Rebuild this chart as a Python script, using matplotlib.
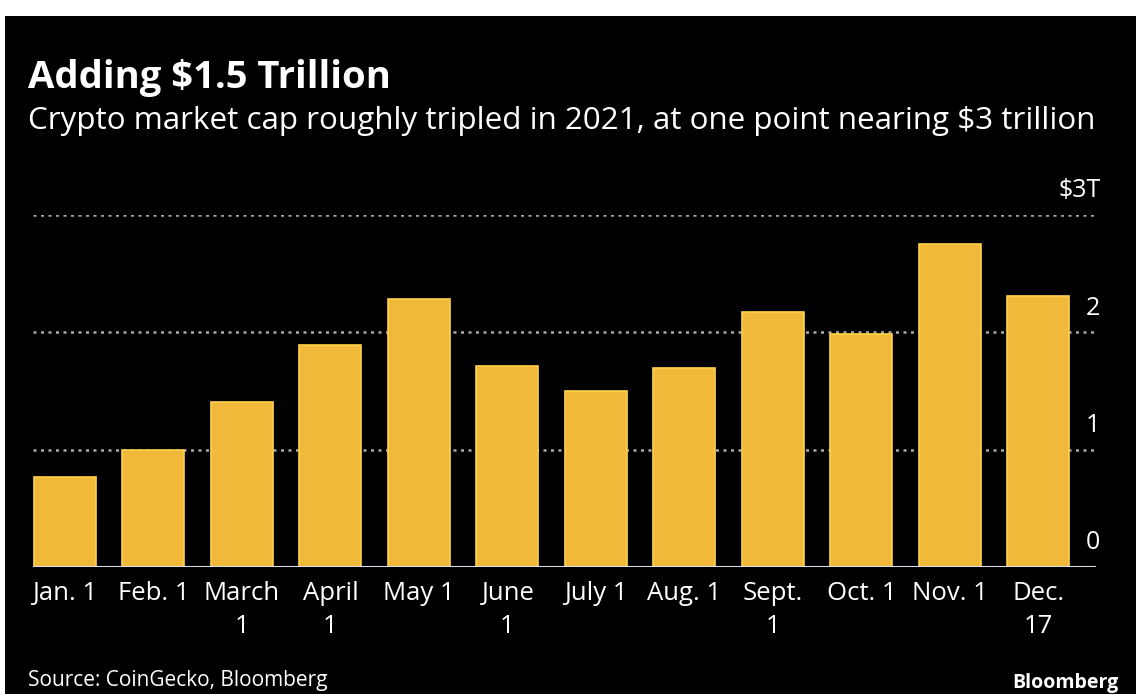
import matplotlib.pyplot as plt
from matplotlib.patches import Rectangle
import matplotlib.transforms as mtransforms

# data (trillions of dollars)
months = ["Jan. 1", "Feb. 1", "March\n1", "April\n1", "May 1", "June\n1",
          "July 1", "Aug. 1", "Sept.\n1", "Oct. 1", "Nov. 1", "Dec.\n17"]
market_cap = [0.77, 1.00, 1.41, 1.89, 2.28, 1.71, 1.50, 1.70, 2.17, 1.99, 2.75, 2.31]
y_ticks = [0, 1, 2, 3]
y_tick_labels = ["0", "1", "2", "$3T"]

BAR = "#F1B93A"
FONT = "Open Sans"

fig = plt.figure(figsize=(11.36, 6.94), dpi=100)
fig.patch.set_facecolor("white")
# black panel, thin white border top and left
fig.patches.append(Rectangle((5 / 1136, 0), 1, 1 - 16 / 694, transform=fig.transFigure,
                             facecolor="black", edgecolor="none", zorder=-5))

ax = fig.add_axes([33 / 1136, 1 - 567 / 694, (1096 - 33) / 1136, (567 - 215) / 694])
ax.set_facecolor("black")

x = list(range(len(months)))
ax.bar(x, market_cap, width=0.70, color=BAR, edgecolor="#FFD24A", linewidth=1.2, zorder=2)

ax.set_xlim(-0.36, 11.65)
ax.set_ylim(0, 3)

for t in y_ticks[1:]:
    ax.axhline(t, color="#A8A8A8", linestyle=(0, (1.2, 1.8)), linewidth=1.8, zorder=1)
ax.axhline(0, color="#D8DDEA", linewidth=2.2, zorder=3)

trans = mtransforms.blended_transform_factory(ax.transAxes, ax.transData)
for t, lab in zip(y_ticks, y_tick_labels):
    ax.text(1.004, t + 0.1, lab, transform=trans, ha="right", va="bottom",
            color="white", fontsize=18, family=FONT)

ax.set_xticks(x)
ax.set_xticklabels(months, color="white", fontsize=18.5, family=FONT, linespacing=1.45)
ax.tick_params(axis="x", length=0, pad=10)
ax.set_yticks([])
for s in ax.spines.values():
    s.set_visible(False)

fig.text(28 / 1136, 1 - 88 / 694, "Adding $1.5 Trillion", color="white",
         fontsize=27.5, fontweight="bold", family=FONT, va="baseline")
fig.text(28 / 1136, 1 - 129 / 694,
         "Crypto market cap roughly tripled in 2021, at one point nearing $3 trillion",
         color="white", fontsize=22.6, family=FONT, va="baseline")
fig.text(28 / 1136, 1 - 686 / 694, "Source: CoinGecko, Bloomberg", color="white",
         fontsize=15, family=FONT, va="baseline")
fig.text(1118 / 1136, 1 - 688 / 694, "Bloomberg", color="white",
         fontsize=14, fontweight="bold", family=FONT, va="baseline", ha="right")

fig.savefig("out.png", dpi=100, facecolor=fig.get_facecolor())
